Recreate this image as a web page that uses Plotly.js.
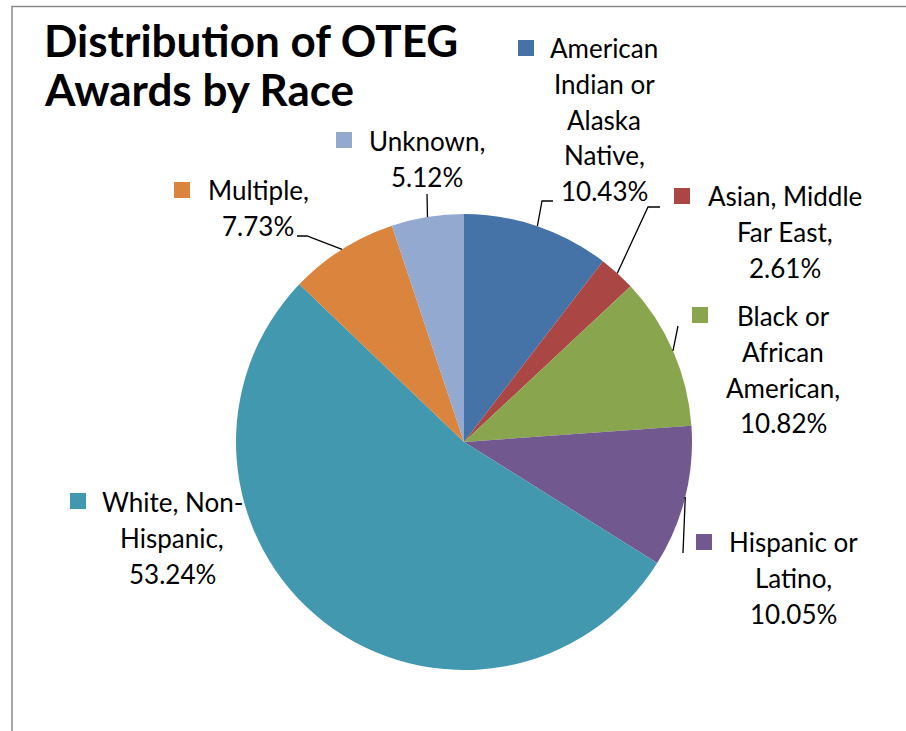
<!DOCTYPE html>
<html>
<head>
<meta charset="utf-8">
<script src="https://cdn.plot.ly/plotly-3.0.1.min.js"></script>
<style>html,body{margin:0;padding:0;background:#fff}#chart{width:906px;height:731px}</style>
</head>
<body>
<div id="chart"></div>
<script>
// ---- data ----
const categories = ["American Indian or Alaska Native", "Asian, Middle Far East", "Black or African American",
  "Hispanic or Latino", "White, Non-Hispanic", "Multiple", "Unknown"];
const shares = [10.43, 2.61, 10.82, 10.05, 53.24, 7.73, 5.12];
const labelLines = [["American", "Indian or", "Alaska", "Native,"], ["Asian, Middle", "Far East,"],
  ["Black or", "African", "American,"], ["Hispanic or", "Latino,"], ["White, Non-", "Hispanic,"],
  ["Multiple,"], ["Unknown,"]];
const titleLines = ["Distribution of OTEG", "Awards by Race"];

// ---- style / layout ----
const colors = ["#4572A7", "#AA4643", "#89A54E", "#71588F", "#4198AF", "#DB843D", "#93A9CF"];
const W = 906, H = 731;
const CX = 464, CY = 442, R = 228;
const FS = 26, LS = 35.8;
const TFS = 44, TB = [57, 106];
const labelPos = [
  {cx: 604, b0: 58, sq: [518, 40], elbow: [[542, 201], [553, 201]]},
  {cx: 785, b0: 206, sq: [674, 188], elbow: [[648, 207], [660, 207]]},
  {cx: 783, b0: 326, sq: [692, 307], elbow: [[678, 326]]},
  {cx: 793, b0: 552, sq: [696, 534], elbow: [[683, 553]], edgeY: 497},
  {cx: 172, b0: 512, sq: [70, 493], elbow: null},
  {cx: 258, b0: 200, sq: [174, 182], elbow: [[307, 236], [297, 236]]},
  {cx: 427, b0: 151, sq: [336, 132], elbow: [[427, 194]]}
];
const px = x => x / W, py = y => 1 - y / H;

const annotations = [], shapes = [];
// border
shapes.push({type: 'rect', xref: 'paper', yref: 'paper', x0: px(12), y0: py(6.5), x1: 1.05, y1: -0.05,
  line: {color: '#8a8a8a', width: 1.5}, fillcolor: 'rgba(0,0,0,0)', layer: 'below'});

// title
titleLines.forEach((t, k) => {
  annotations.push({xref: 'paper', yref: 'paper', x: px(42), y: py(TB[k] - 0.387 * TFS),
    xanchor: 'left', yanchor: 'middle', showarrow: false, text: '<b>' + t + '</b>',
    font: {family: 'Lato, sans-serif', size: TFS, color: '#000'}});
});

const total = shares.reduce((a, b) => a + b, 0);
let cum = 0;
shares.forEach((v, i) => {
  const mid = (cum + v / 2) / total * 2 * Math.PI;
  cum += v;
  const p = labelPos[i];
  const lines = labelLines[i].concat([v.toFixed(2) + '%']);
  lines.forEach((t, k) => {
    const base = p.b0 + k * LS;
    annotations.push({xref: 'paper', yref: 'paper', x: px(p.cx), y: py(base - 0.387 * FS),
      xanchor: 'center', yanchor: 'middle', showarrow: false, text: t,
      font: {family: 'Lato, sans-serif', size: FS, color: '#000'}});
  });
  shapes.push({type: 'rect', xref: 'paper', yref: 'paper', x0: px(p.sq[0]), x1: px(p.sq[0] + 16),
    y0: py(p.sq[1]), y1: py(p.sq[1] + 16), fillcolor: colors[i], line: {width: 0}});
  if (p.elbow) {
    let sx, sy;
    if (p.edgeY !== undefined) {
      sy = p.edgeY; sx = CX + Math.sqrt(R * R - (sy - CY) * (sy - CY));
    } else {
      sx = CX + R * Math.sin(mid); sy = CY - R * Math.cos(mid);
    }
    let d = 'M' + px(sx) + ',' + py(sy);
    p.elbow.forEach(q => { d += ' L' + px(q[0]) + ',' + py(q[1]); });
    shapes.push({type: 'path', xref: 'paper', yref: 'paper', path: d, line: {color: '#000', width: 1.3}});
  }
});

const trace = {
  type: 'pie', labels: categories, values: shares, sort: false, direction: 'clockwise', rotation: 0,
  marker: {colors: colors, line: {width: 0}}, textinfo: 'none', hoverinfo: 'label+percent',
  domain: {x: [px(CX - R), px(CX + R)], y: [py(CY + R), py(CY - R)]}
};

const layout = {
  width: W, height: H, margin: {l: 0, r: 0, t: 0, b: 0}, showlegend: false,
  paper_bgcolor: '#fff',
  annotations: annotations, shapes: shapes
};
Plotly.newPlot('chart', [trace], layout, {staticPlot: true});
</script>
</body>
</html>
